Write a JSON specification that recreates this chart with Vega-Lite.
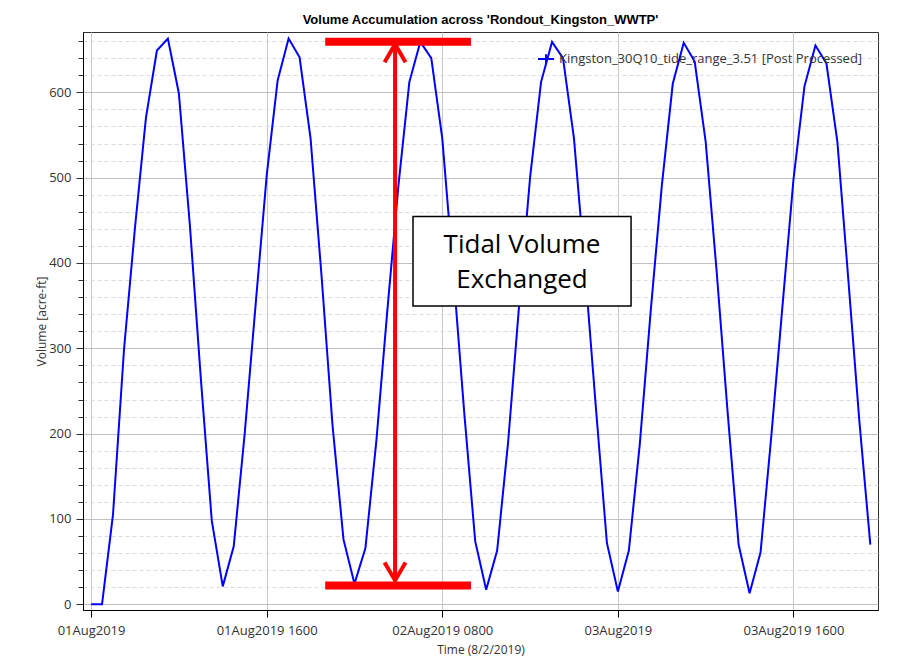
{
  "$schema": "https://vega.github.io/schema/vega-lite/v6.json",
  "width": 795,
  "height": 578,
  "autosize": {"type": "none"},
  "padding": {"left": 83, "top": 32, "right": 24, "bottom": 56},
  "background": "white",
  "title": {
    "text": "Volume Accumulation across 'Rondout_Kingston_WWTP'",
    "font": "Liberation Sans",
    "fontSize": 13,
    "fontWeight": "bold",
    "color": "#000000",
    "anchor": "middle",
    "frame": "group",
    "baseline": "alphabetic",
    "offset": -5
  },
  "config": {
    "view": {"stroke": "#333333", "strokeWidth": 1},
    "axis": {
      "labelFont": "Open Sans",
      "labelFontSize": 13,
      "labelColor": "#333333",
      "titleFont": "Open Sans",
      "titleFontSize": 12,
      "titleFontWeight": "normal",
      "titleColor": "#333333",
      "domainColor": "#000000",
      "tickColor": "#333333"
    }
  },
  "datasets": {
    "tide": [
      {"time": "2019-08-01T00:00", "volume": 0},
      {"time": "2019-08-01T01:00", "volume": 0},
      {"time": "2019-08-01T02:00", "volume": 105},
      {"time": "2019-08-01T03:00", "volume": 298},
      {"time": "2019-08-01T04:00", "volume": 441},
      {"time": "2019-08-01T05:00", "volume": 570},
      {"time": "2019-08-01T06:00", "volume": 649},
      {"time": "2019-08-01T07:00", "volume": 663},
      {"time": "2019-08-01T08:00", "volume": 599},
      {"time": "2019-08-01T09:00", "volume": 445},
      {"time": "2019-08-01T10:00", "volume": 265},
      {"time": "2019-08-01T11:00", "volume": 98},
      {"time": "2019-08-01T12:00", "volume": 21},
      {"time": "2019-08-01T13:00", "volume": 68},
      {"time": "2019-08-01T14:00", "volume": 200},
      {"time": "2019-08-01T15:00", "volume": 352},
      {"time": "2019-08-01T16:00", "volume": 502},
      {"time": "2019-08-01T17:00", "volume": 614},
      {"time": "2019-08-01T18:00", "volume": 663},
      {"time": "2019-08-01T19:00", "volume": 641},
      {"time": "2019-08-01T20:00", "volume": 546},
      {"time": "2019-08-01T21:00", "volume": 385},
      {"time": "2019-08-01T22:00", "volume": 210},
      {"time": "2019-08-01T23:00", "volume": 76},
      {"time": "2019-08-02T00:00", "volume": 24},
      {"time": "2019-08-02T01:00", "volume": 66},
      {"time": "2019-08-02T02:00", "volume": 192},
      {"time": "2019-08-02T03:00", "volume": 345},
      {"time": "2019-08-02T04:00", "volume": 490},
      {"time": "2019-08-02T05:00", "volume": 612},
      {"time": "2019-08-02T06:00", "volume": 659},
      {"time": "2019-08-02T07:00", "volume": 640},
      {"time": "2019-08-02T08:00", "volume": 546},
      {"time": "2019-08-02T09:00", "volume": 390},
      {"time": "2019-08-02T10:00", "volume": 225},
      {"time": "2019-08-02T11:00", "volume": 74},
      {"time": "2019-08-02T12:00", "volume": 17},
      {"time": "2019-08-02T13:00", "volume": 63},
      {"time": "2019-08-02T14:00", "volume": 190},
      {"time": "2019-08-02T15:00", "volume": 350},
      {"time": "2019-08-02T16:00", "volume": 500},
      {"time": "2019-08-02T17:00", "volume": 612},
      {"time": "2019-08-02T18:00", "volume": 659},
      {"time": "2019-08-02T19:00", "volume": 640},
      {"time": "2019-08-02T20:00", "volume": 546},
      {"time": "2019-08-02T21:00", "volume": 393},
      {"time": "2019-08-02T22:00", "volume": 230},
      {"time": "2019-08-02T23:00", "volume": 72},
      {"time": "2019-08-03T00:00", "volume": 15},
      {"time": "2019-08-03T01:00", "volume": 63},
      {"time": "2019-08-03T02:00", "volume": 188},
      {"time": "2019-08-03T03:00", "volume": 345},
      {"time": "2019-08-03T04:00", "volume": 490},
      {"time": "2019-08-03T05:00", "volume": 610},
      {"time": "2019-08-03T06:00", "volume": 658},
      {"time": "2019-08-03T07:00", "volume": 636},
      {"time": "2019-08-03T08:00", "volume": 542},
      {"time": "2019-08-03T09:00", "volume": 390},
      {"time": "2019-08-03T10:00", "volume": 225},
      {"time": "2019-08-03T11:00", "volume": 70},
      {"time": "2019-08-03T12:00", "volume": 13},
      {"time": "2019-08-03T13:00", "volume": 61},
      {"time": "2019-08-03T14:00", "volume": 200},
      {"time": "2019-08-03T15:00", "volume": 350},
      {"time": "2019-08-03T16:00", "volume": 498},
      {"time": "2019-08-03T17:00", "volume": 607},
      {"time": "2019-08-03T18:00", "volume": 655},
      {"time": "2019-08-03T19:00", "volume": 634},
      {"time": "2019-08-03T20:00", "volume": 542},
      {"time": "2019-08-03T21:00", "volume": 380},
      {"time": "2019-08-03T22:00", "volume": 215},
      {"time": "2019-08-03T23:00", "volume": 70}
    ],
    "bars": [
      {"start": "2019-08-01T21:20", "end": "2019-08-02T10:37", "level": 659.4},
      {"start": "2019-08-01T21:20", "end": "2019-08-02T10:37", "level": 21.9}
    ],
    "shaft": [
      {"time": "2019-08-02T03:42", "top": 656.4, "bottom": 28.0}
    ],
    "heads": [
      {"time": "2019-08-02T03:42", "level": 656.4, "dir": "up"},
      {"time": "2019-08-02T03:42", "level": 28.0, "dir": "down"}
    ],
    "box": [
      {"start": "2019-08-02T05:20", "end": "2019-08-03T01:12", "top": 454.4, "bottom": 349.6}
    ],
    "label": [
      {"time": "2019-08-02T15:16", "level": 421.1, "text": "Tidal Volume\nExchanged"}
    ]
  },
  "layer": [
    {
      "data": {"name": "tide"},
      "mark": {"type": "line", "strokeWidth": 2},
      "encoding": {
        "x": {
          "field": "time",
          "type": "temporal",
          "scale": {
            "domain": [
              {"year": 2019, "month": 7, "date": 31, "hours": 23, "minutes": 16},
              {"year": 2019, "month": 8, "date": 3, "hours": 23, "minutes": 42}
            ],
            "nice": false
          },
          "axis": {
            "title": "Time (8/2/2019)",
            "values": [
              {"year": 2019, "month": 8, "date": 1},
              {"year": 2019, "month": 8, "date": 1, "hours": 16},
              {"year": 2019, "month": 8, "date": 2, "hours": 8},
              {"year": 2019, "month": 8, "date": 3},
              {"year": 2019, "month": 8, "date": 3, "hours": 16}
            ],
            "labelExpr": "timeFormat(datum.value, '%d%b%Y') + (hours(datum.value) == 0 ? '' : ' ' + timeFormat(datum.value, '%H%M'))",
            "grid": true,
            "gridColor": "#c8c8c8",
            "tickSize": 7,
            "tickColor": "#000000",
            "labelPadding": 7,
            "titlePadding": 7,
            "labelFlush": false,
            "labelOverlap": false
          }
        },
        "y": {
          "field": "volume",
          "type": "quantitative",
          "scale": {"domain": [-6.7, 670.7], "nice": false, "zero": false},
          "axis": {
            "orient": "left",
            "values": [20, 40, 60, 80, 120, 140, 160, 180, 220, 240, 260, 280, 320, 340, 360, 380, 420, 440, 460, 480, 520, 540, 560, 580, 620, 640, 660],
            "labels": false,
            "title": null,
            "domain": false,
            "grid": true,
            "gridDash": [4, 3],
            "gridColor": "#dcdcdc",
            "tickSize": 5
          }
        },
        "color": {
          "datum": "Kingston_30Q10_tide_range_3.51 [Post Processed]",
          "type": "nominal",
          "scale": {"range": ["#0000ff"]},
          "legend": {
            "orient": "none",
            "legendX": 454,
            "legendY": 18,
            "title": null,
            "padding": 0,
            "symbolType": "M-1,0H1M0,-0.6V0.6",
            "symbolSize": 256,
            "symbolStrokeWidth": 2,
            "symbolStrokeColor": "#0000ff",
            "symbolFillColor": "transparent",
            "labelFont": "Open Sans",
            "labelFontSize": 13,
            "labelColor": "#333333",
            "labelOffset": 4,
            "labelLimit": 400
          }
        }
      }
    },
    {
      "data": {"name": "bars"},
      "mark": {"type": "rule", "color": "#ff0000", "strokeWidth": 8},
      "encoding": {
        "x": {"field": "start", "type": "temporal", "scale": {"domain": [
              {"year": 2019, "month": 7, "date": 31, "hours": 23, "minutes": 16},
              {"year": 2019, "month": 8, "date": 3, "hours": 23, "minutes": 42}
            ], "nice": false}},
        "x2": {"field": "end"},
        "y": {
          "field": "level",
          "type": "quantitative",
          "scale": {"domain": [-6.7, 670.7], "nice": false, "zero": false},
          "axis": {
            "orient": "left",
            "title": "Volume [acre-ft]",
            "values": [0, 100, 200, 300, 400, 500, 600],
            "grid": true,
            "gridColor": "#c0c0c0",
            "tickSize": 7,
            "labelPadding": 5,
            "titlePadding": 0
          }
        }
      }
    },
    {
      "data": {"name": "shaft"},
      "mark": {"type": "rule", "color": "#ff0000", "strokeWidth": 4},
      "encoding": {
        "x": {"field": "time", "type": "temporal"},
        "y": {"field": "top", "type": "quantitative", "axis": null},
        "y2": {"field": "bottom"}
      }
    },
    {
      "data": {"name": "heads"},
      "mark": {"type": "point", "filled": false, "color": "#ff0000", "strokeWidth": 4, "size": 900, "opacity": 1},
      "encoding": {
        "x": {"field": "time", "type": "temporal"},
        "y": {"field": "level", "type": "quantitative", "axis": null},
        "shape": {
          "field": "dir",
          "type": "nominal",
          "scale": {"domain": ["up", "down"], "range": ["M-0.7,1.2L0,0L0.7,1.2", "M-0.7,-1.2L0,0L0.7,-1.2"]},
          "legend": null
        }
      }
    },
    {
      "data": {"name": "box"},
      "mark": {"type": "rect", "fill": "#ffffff", "stroke": "#000000", "strokeWidth": 1.5},
      "encoding": {
        "x": {"field": "start", "type": "temporal"},
        "x2": {"field": "end"},
        "y": {"field": "top", "type": "quantitative", "axis": null},
        "y2": {"field": "bottom"}
      }
    },
    {
      "data": {"name": "label"},
      "mark": {"type": "text", "font": "Open Sans", "fontSize": 26, "color": "#000000", "align": "center", "baseline": "middle", "lineBreak": "\n", "lineHeight": 35},
      "encoding": {
        "x": {"field": "time", "type": "temporal"},
        "y": {"field": "level", "type": "quantitative", "axis": null},
        "text": {"field": "text"}
      }
    }
  ],
  "resolve": {"axis": {"y": "independent"}}
}
